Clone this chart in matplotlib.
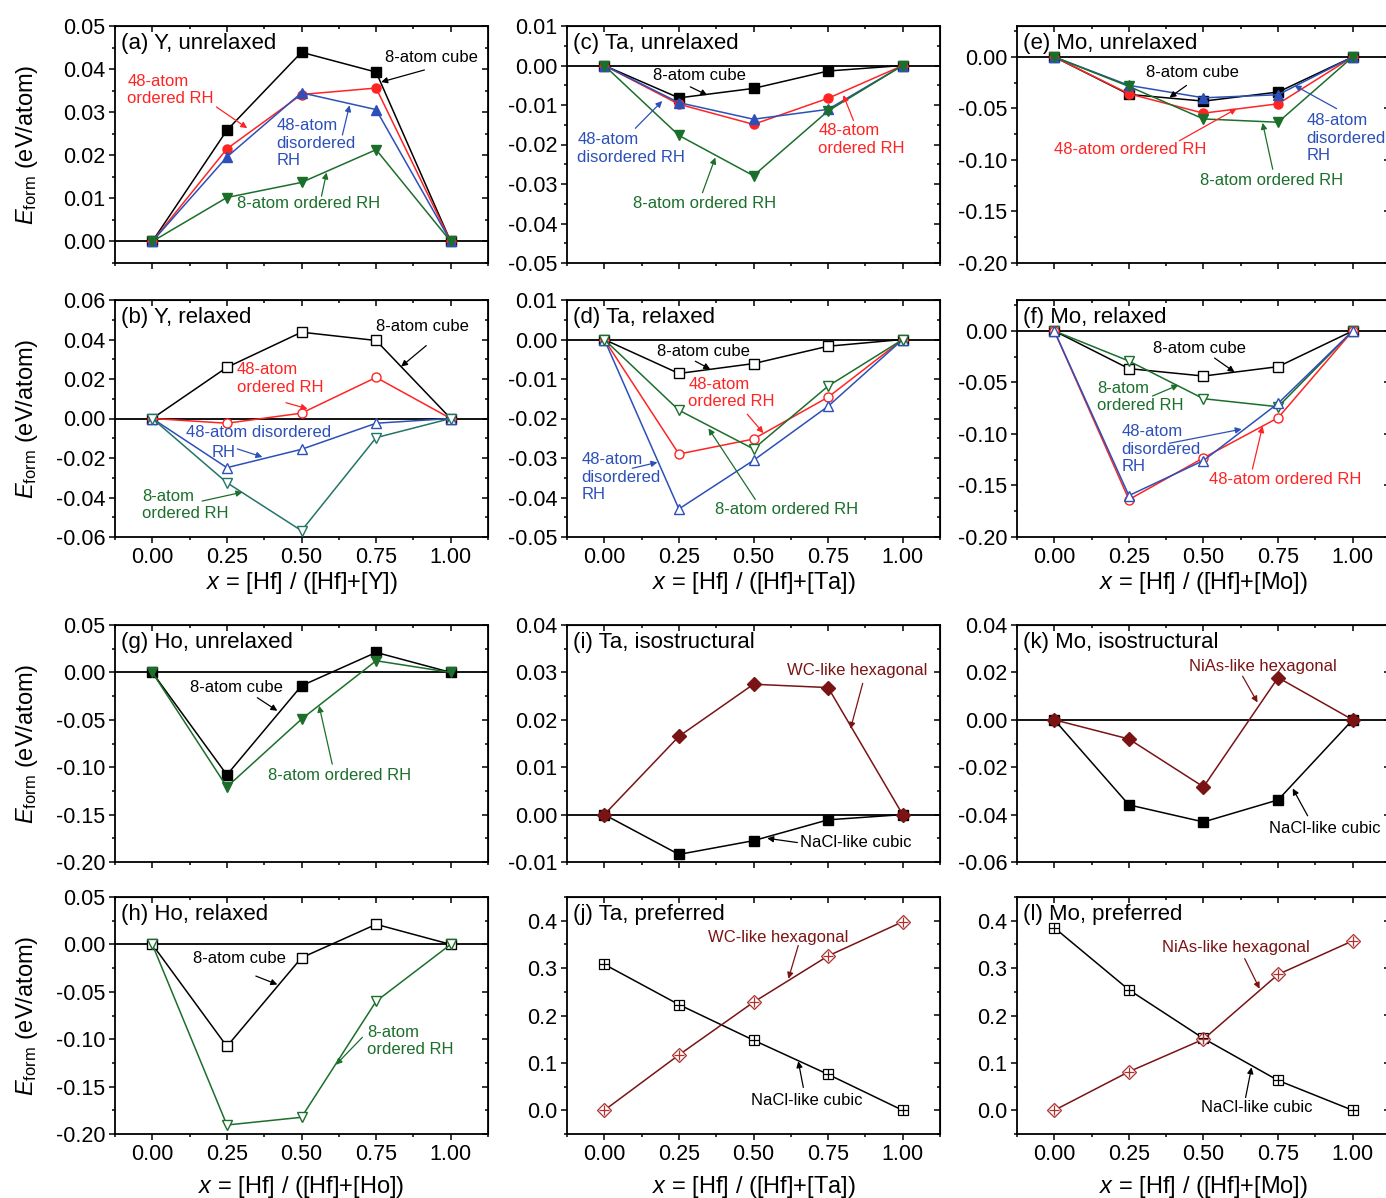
import matplotlib.pyplot as plt
from matplotlib.ticker import MultipleLocator, FormatStrFormatter, FuncFormatter

plt.rcParams['font.family'] = ['Liberation Sans', 'DejaVu Sans']
plt.rcParams['mathtext.fontset'] = 'custom'
plt.rcParams['mathtext.rm'] = 'Liberation Sans'
plt.rcParams['mathtext.it'] = 'Liberation Sans:italic'

X = [0.0, 0.25, 0.50, 0.75, 1.00]

# (a) Y, unrelaxed
a_cube = [0, 0.0258, 0.0439, 0.0393, 0]
a_rh48_ord = [0, 0.0215, 0.0341, 0.0356, 0]
a_rh48_dis = [0, 0.0196, 0.0345, 0.0306, 0]
a_rh8_ord = [0, 0.0102, 0.0137, 0.0213, 0]
# (b) Y, relaxed
b_cube = [0, 0.0259, 0.0437, 0.0395, 0]
b_rh48_ord = [0, -0.0024, 0.0027, 0.0208, 0]
b_rh48_dis = [0, -0.0249, -0.0156, -0.0024, 0]
b_rh8_ord = [0, -0.0325, -0.0568, -0.0097, 0]
# (c) Ta, unrelaxed
c_cube = [0, -0.0082, -0.0058, -0.0014, 0]
c_rh48_ord = [0, -0.0098, -0.0149, -0.0083, 0]
c_rh48_dis = [0, -0.0094, -0.0136, -0.0111, 0]
c_rh8_ord = [0, -0.0177, -0.0279, -0.0115, 0]
# (d) Ta, relaxed
d_cube = [0, -0.0086, -0.0061, -0.0017, 0]
d_rh48_ord = [0, -0.0290, -0.0252, -0.0146, 0]
d_rh48_dis = [0, -0.0429, -0.0306, -0.0169, 0]
d_rh8_ord = [0, -0.0179, -0.0277, -0.0118, 0]
# (e) Mo, unrelaxed
e_cube = [0, -0.0364, -0.0429, -0.0341, 0]
e_rh48_ord = [0, -0.0358, -0.0546, -0.0455, 0]
e_rh48_dis = [0, -0.0276, -0.0397, -0.0367, 0]
e_rh8_ord = [0, -0.0286, -0.0602, -0.0634, 0]
# (f) Mo, relaxed
f_cube = [0, -0.0366, -0.0438, -0.0347, 0]
f_rh48_ord = [0, -0.1637, -0.1232, -0.0843, 0]
f_rh48_dis = [0, -0.1598, -0.1258, -0.0703, 0]
f_rh8_ord = [0, -0.0292, -0.0658, -0.0736, 0]
# (g) Ho, unrelaxed
g_cube = [0, -0.1081, -0.0141, 0.0211, 0]
g_rh8_ord = [0, -0.1208, -0.0493, 0.0123, 0]
# (h) Ho, relaxed
h_cube = [0, -0.1076, -0.0141, 0.0212, 0]
h_rh8_ord = [0, -0.1905, -0.1824, -0.0600, 0]
# (i) Ta, isostructural
i_wc_hex = [0, 0.0165, 0.0275, 0.0268, 0]
i_nacl = [0, -0.0084, -0.0055, -0.0011, 0]
# (j) Ta, preferred
j_wc_hex = [0, 0.1168, 0.2280, 0.3257, 0.3979]
j_nacl = [0.3080, 0.2230, 0.1480, 0.0758, 0]
# (k) Mo, isostructural
k_nias_hex = [0, -0.0081, -0.0283, 0.0178, 0]
k_nacl = [0, -0.0359, -0.0431, -0.0338, 0]
# (l) Mo, preferred
l_nias_hex = [0, 0.0814, 0.1500, 0.2867, 0.3575]
l_nacl = [0.3851, 0.2542, 0.1515, 0.0630, 0]

BLACK = '#000000'
RED = '#ff2424'
BLUE = '#2c50b8'
GREEN = '#1b6f2b'
TEAL = '#237567'
MAROON = '#7a1414'
HEXMK = '#b03030'

W, H = 1386, 1198
COL_LEFT = [115, 567, 1017]
ROW_TOP = [26, 300, 625, 897]
AX_W, AX_H = 373, 237

fig = plt.figure(figsize=(W / 100, H / 100), dpi=100)


def tick_fmt(fmt):
    def f(v, pos):
        s = fmt % v
        if float(s) == 0:
            s = fmt % 0.0
        return s
    return FuncFormatter(f)


def panel(row, col, ylim, ystep, title, fmt='%.2f', xlabels=False, zero=True):
    left, top = COL_LEFT[col], ROW_TOP[row]
    ax = fig.add_axes([left / W, 1 - (top + AX_H) / H, AX_W / W, AX_H / H])
    ax.set_xlim(-0.125, 1.125)
    ax.set_ylim(*ylim)
    for axis, step in ((ax.xaxis, 0.25), (ax.yaxis, ystep)):
        axis.set_major_locator(MultipleLocator(step))
        axis.set_minor_locator(MultipleLocator(step / 2))
    ax.xaxis.set_major_formatter(FormatStrFormatter('%.2f'))
    ax.yaxis.set_major_formatter(tick_fmt(fmt))
    ax.tick_params(which='both', direction='out', width=1.1, labelsize=15.5, pad=2.5)
    ax.tick_params(which='major', length=4.5)
    ax.tick_params(which='minor', length=2.5)
    ax.tick_params(labelbottom=xlabels)
    for sp in ax.spines.values():
        sp.set_linewidth(1.3)
    # inward ticks mirrored on top and right
    top_ax = ax.secondary_xaxis('top')
    top_ax.xaxis.set_major_locator(MultipleLocator(0.25))
    top_ax.xaxis.set_minor_locator(MultipleLocator(0.125))
    top_ax.tick_params(axis='x', which='both', direction='in', width=1.1, labeltop=False)
    top_ax.tick_params(axis='x', which='major', length=4.5)
    top_ax.tick_params(axis='x', which='minor', length=2.5)
    right_ax = ax.secondary_yaxis('right')
    right_ax.yaxis.set_major_locator(MultipleLocator(ystep))
    right_ax.yaxis.set_minor_locator(MultipleLocator(ystep / 2))
    right_ax.tick_params(axis='y', which='both', direction='in', width=1.1, labelright=False)
    right_ax.tick_params(axis='y', which='major', length=4.5)
    right_ax.tick_params(axis='y', which='minor', length=2.5)
    if zero:
        ax.axhline(0, color='black', lw=1.3, zorder=1)
    ax.text(0.015, 0.925, title, transform=ax.transAxes, fontsize=16, va='center', ha='left')
    return ax


def curve(ax, y, color, marker, open_=False, ms=6.5, lc=None):
    ax.plot(X, y, color=lc or color, lw=1.1, marker=marker, ms=ms,
            mfc='white' if open_ else color, mec=color, mew=1.0, zorder=3, clip_on=False)


def crossed(ax, y, color, marker, mcolor, ms):
    ax.plot(X, y, color=color, lw=1.1, marker=marker, ms=ms, mfc='white', mec=mcolor,
            mew=0.9, zorder=3)
    ax.plot(X, y, ls='none', marker='+', ms=ms, mec=mcolor, mew=0.9, zorder=4)


def note(ax, text, txy, tail, head, color, ha='left'):
    ax.text(txy[0], txy[1], text, color=color, fontsize=12, ha=ha, va='center',
            linespacing=1.2, zorder=5)
    ax.annotate('', xy=head, xytext=tail, zorder=5,
                arrowprops=dict(arrowstyle='-|>', color=color, lw=0.9,
                                mutation_scale=9, shrinkA=0, shrinkB=0))


# (a)
ax = panel(0, 0, (-0.005, 0.05), 0.01, '(a) Y, unrelaxed')
curve(ax, a_cube, BLACK, 's')
curve(ax, a_rh48_ord, RED, 'o')
curve(ax, a_rh48_dis, BLUE, '^')
curve(ax, a_rh8_ord, GREEN, 'v')
note(ax, '8-atom cube', (0.936, 0.0426), (0.912, 0.0398), (0.767, 0.0370), BLACK, 'center')
note(ax, '48-atom\nordered RH', (-0.084, 0.0351), (0.215, 0.0312), (0.318, 0.0263), RED)
note(ax, '48-atom\ndisordered\nRH', (0.416, 0.0228), (0.637, 0.0247), (0.661, 0.0316), BLUE)
note(ax, '8-atom ordered RH', (0.285, 0.0088), (0.567, 0.0105), (0.584, 0.016), GREEN)

# (b)
ax = panel(1, 0, (-0.06, 0.06), 0.02, '(b) Y, relaxed', xlabels=True)
curve(ax, b_cube, BLACK, 's', open_=True)
curve(ax, b_rh48_ord, RED, 'o', open_=True)
curve(ax, b_rh48_dis, BLUE, '^', open_=True)
curve(ax, b_rh8_ord, TEAL, 'v', open_=True)
note(ax, '8-atom cube', (0.905, 0.0466), (0.918, 0.0369), (0.834, 0.0263), BLACK, 'center')
note(ax, '48-atom\nordered RH', (0.284, 0.0202), (0.448, 0.008), (0.52, 0.0049), RED)
ax.text(0.113, -0.0073, '48-atom disordered', color=BLUE, fontsize=12, va='center', zorder=5)
note(ax, 'RH', (0.2, -0.0174), (0.285, -0.0154), (0.369, -0.0195), BLUE)
note(ax, '8-atom\nordered RH', (-0.035, -0.0439), (0.167, -0.0418), (0.302, -0.0373), GREEN)

# (c)
ax = panel(0, 1, (-0.05, 0.01), 0.01, '(c) Ta, unrelaxed')
curve(ax, c_cube, BLACK, 's')
curve(ax, c_rh48_ord, RED, 'o')
curve(ax, c_rh48_dis, BLUE, '^')
curve(ax, c_rh8_ord, GREEN, 'v')
note(ax, '8-atom cube', (0.318, -0.0026), (0.288, -0.0054), (0.345, -0.0075), BLACK, 'center')
note(ax, '48-atom\ndisordered RH', (-0.09, -0.021), (0.104, -0.0159), (0.194, -0.009), BLUE)
note(ax, '48-atom\nordered RH', (0.717, -0.0187), (0.835, -0.0139), (0.801, -0.0075), RED)
note(ax, '8-atom ordered RH', (0.097, -0.035), (0.329, -0.0322), (0.372, -0.0233), GREEN)

# (d)
ax = panel(1, 1, (-0.05, 0.01), 0.01, '(d) Ta, relaxed', xlabels=True)
curve(ax, d_cube, BLACK, 's', open_=True)
curve(ax, d_rh48_ord, RED, 'o', open_=True)
curve(ax, d_rh48_dis, BLUE, '^', open_=True)
curve(ax, d_rh8_ord, GREEN, 'v', open_=True)
note(ax, '8-atom cube', (0.332, -0.003), (0.305, -0.0055), (0.355, -0.0075), BLACK, 'center')
note(ax, '48-atom\nordered RH', (0.282, -0.0136), (0.479, -0.0189), (0.533, -0.0237), RED)
note(ax, '48-atom\ndisordered\nRH', (-0.077, -0.0349), (0.094, -0.0326), (0.178, -0.0311), BLUE)
note(ax, '8-atom ordered RH', (0.372, -0.043), (0.506, -0.0405), (0.349, -0.0225), GREEN)

# (e)
ax = panel(0, 2, (-0.2, 0.03), 0.05, '(e) Mo, unrelaxed')
curve(ax, e_cube, BLACK, 's')
curve(ax, e_rh48_ord, RED, 'o')
curve(ax, e_rh48_dis, BLUE, '^')
curve(ax, e_rh8_ord, GREEN, 'v')
note(ax, '8-atom cube', (0.463, -0.0149), (0.443, -0.0277), (0.386, -0.0394), BLACK, 'center')
note(ax, '48-atom ordered RH', (0.0, -0.090), (0.419, -0.0814), (0.611, -0.0502), RED)
note(ax, '48-atom\ndisordered\nRH', (0.846, -0.079), (0.946, -0.0502), (0.805, -0.0277), BLUE)
note(ax, '8-atom ordered RH', (0.487, -0.120), (0.732, -0.109), (0.698, -0.064), GREEN)

# (f)
ax = panel(1, 2, (-0.2, 0.03), 0.05, '(f) Mo, relaxed', xlabels=True)
curve(ax, f_cube, BLACK, 's', open_=True)
curve(ax, f_rh8_ord, GREEN, 'v', open_=True)
curve(ax, f_rh48_ord, RED, 'o', open_=True)
curve(ax, f_rh48_dis, BLUE, '^', open_=True)
note(ax, '8-atom cube', (0.487, -0.0175), (0.537, -0.0263), (0.604, -0.040), BLACK, 'center')
note(ax, '8-atom\nordered RH', (0.144, -0.064), (0.329, -0.0632), (0.416, -0.0525), GREEN)
note(ax, '48-atom\ndisordered\nRH', (0.225, -0.1148), (0.386, -0.109), (0.628, -0.0953), BLUE)
note(ax, '48-atom ordered RH', (0.52, -0.144), (0.664, -0.134), (0.698, -0.0924), RED)

# (g)
ax = panel(2, 0, (-0.2, 0.05), 0.05, '(g) Ho, unrelaxed')
curve(ax, g_cube, BLACK, 's')
curve(ax, g_rh8_ord, GREEN, 'v')
note(ax, '8-atom cube', (0.281, -0.0162), (0.352, -0.0267), (0.419, -0.0405), BLACK, 'center')
note(ax, '8-atom ordered RH', (0.389, -0.109), (0.603, -0.0967), (0.559, -0.0352), GREEN)

# (h)
ax = panel(3, 0, (-0.2, 0.05), 0.05, '(h) Ho, relaxed', xlabels=True)
curve(ax, h_cube, BLACK, 's', open_=True)
curve(ax, h_rh8_ord, GREEN, 'v', open_=True)
note(ax, '8-atom cube', (0.291, -0.0148), (0.347, -0.0334), (0.419, -0.0423), BLACK, 'center')
note(ax, '8-atom\nordered RH', (0.72, -0.1016), (0.704, -0.098), (0.615, -0.127), GREEN)

# (i)
ax = panel(2, 1, (-0.01, 0.04), 0.01, '(i) Ta, isostructural')
curve(ax, i_nacl, BLACK, 's')
curve(ax, i_wc_hex, MAROON, 'D', ms=7)
note(ax, 'WC-like hexagonal', (0.613, 0.0303), (0.866, 0.0277), (0.825, 0.0181), MAROON)
note(ax, 'NaCl-like cubic', (0.657, -0.0059), (0.647, -0.0059), (0.546, -0.005), BLACK)

# (j)
ax = panel(3, 1, (-0.05, 0.45), 0.1, '(j) Ta, preferred', fmt='%.1f', xlabels=True, zero=False)
crossed(ax, j_nacl, BLACK, 's', BLACK, 6.5)
crossed(ax, j_wc_hex, MAROON, 'D', HEXMK, 7.5)
note(ax, 'WC-like hexagonal', (0.349, 0.3647), (0.65, 0.3477), (0.617, 0.2776), MAROON)
note(ax, 'NaCl-like cubic', (0.493, 0.0206), (0.667, 0.0482), (0.65, 0.1035), BLACK)

# (k)
ax = panel(2, 2, (-0.06, 0.04), 0.02, '(k) Mo, isostructural')
curve(ax, k_nacl, BLACK, 's')
curve(ax, k_nias_hex, MAROON, 'D', ms=7)
note(ax, 'NiAs-like hexagonal', (0.45, 0.0226), (0.631, 0.0184), (0.681, 0.0073), MAROON)
note(ax, 'NaCl-like cubic', (0.721, -0.0457), (0.849, -0.0405), (0.799, -0.029), BLACK)

# (l)
ax = panel(3, 2, (-0.05, 0.45), 0.1, '(l) Mo, preferred', fmt='%.1f', xlabels=True, zero=False)
crossed(ax, l_nacl, BLACK, 's', BLACK, 6.5)
crossed(ax, l_nias_hex, MAROON, 'D', HEXMK, 7.5)
note(ax, 'NiAs-like hexagonal', (0.362, 0.3435), (0.638, 0.32), (0.688, 0.2564), MAROON)
note(ax, 'NaCl-like cubic', (0.493, 0.0055), (0.641, 0.0269), (0.661, 0.0906), BLACK)

# shared axis labels
YLABEL = r'$E_{\mathrm{form}}$ (eV/atom)'
for r in range(4):
    fig.text(27 / W, 1 - (ROW_TOP[r] + AX_H / 2) / H, YLABEL, rotation=90,
             ha='center', va='center', fontsize=17)

XLABEL_Y = {1: 583, 3: 1187}
ELEMENTS = {1: ['Y', 'Ta', 'Mo'], 3: ['Ho', 'Ta', 'Mo']}
for r, ypix in XLABEL_Y.items():
    for c, el in enumerate(ELEMENTS[r]):
        fig.text((COL_LEFT[c] + AX_W / 2) / W, 1 - ypix / H,
                 r'$x$ = [Hf] / ([Hf]+[%s])' % el, ha='center', va='center', fontsize=17)

fig.savefig('out.png', dpi=100)
